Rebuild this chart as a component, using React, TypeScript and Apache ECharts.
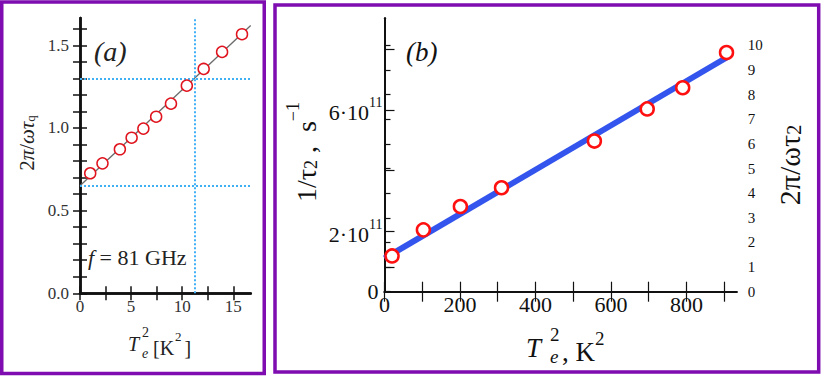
import React, { useEffect, useRef } from 'react';
import * as echarts from 'echarts';

// ---------- Panel (a) data ----------
const aX = [1.0, 2.2, 3.9, 5.05, 6.2, 7.45, 8.9, 10.45, 12.1, 13.9, 15.85];
const aY = [0.726, 0.786, 0.871, 0.941, 0.996, 1.068, 1.147, 1.256, 1.357, 1.46, 1.567];
const aFitX = [0, 16.7];
const aFitY = [0.65, 1.62];
const aRefY = [0.65, 1.3];
const aRefX = [11.2];
const aXTicks = [0, 2.5, 5, 7.5, 10, 12.5, 15];
const aXLabels = [0, 5, 10, 15];
const aYTicks = [0, 0.1, 0.2, 0.3, 0.4, 0.5, 0.6, 0.7, 0.8, 0.9, 1.0, 1.1, 1.2, 1.3, 1.4, 1.5, 1.6];
const aYLabels = [0, 0.5, 1.0, 1.5];
const aXMax = 16.7;
const aYMax = 1.665;

// ---------- Panel (b) data ----------
const bX = [20, 103, 201, 310, 556, 696, 790, 906];
const bY = [1.18e11, 2.04e11, 2.81e11, 3.43e11, 4.97e11, 6.03e11, 6.73e11, 7.89e11];
const bFitX = [0, 911];
const bFitY = [1.1e11, 7.76e11];
const bXTicks = [0, 100, 200, 300, 400, 500, 600, 700, 800, 900];
const bXLabels = [0, 200, 400, 600, 800];
const bYTicks = [0.82e11, 2e11, 4e11, 6e11, 8e11];
const bYLabels = [0, 2e11, 6e11];
const bRTicks = [0, 1, 2, 3, 4, 5, 6, 7, 8, 9, 10];
const bXMax = 933;
const bYMax = 9.02e11;
const bRMax = 11.1;

const FONT = "'Liberation Serif', 'Times New Roman', serif";
const PURPLE = '#7e0cb0';

function zip(xs: number[], ys: number[]) {
  return xs.map((x, i) => [x, ys[i]]);
}

function richLabel(size: number, color: string, fmt: (v: number) => string) {
  return {
    formatter: (v: number) => `{t|${fmt(v)}}`,
    rich: { t: { fontSize: size, fontFamily: FONT, color } },
  };
}

export default function App() {
  const ref = useRef<HTMLDivElement>(null);
  useEffect(() => {
    document.body.style.margin = '0';
    const chart = echarts.init(ref.current!, null, { renderer: 'svg' });

    const boxAxis = (extra: any) => ({
      type: 'value',
      splitLine: { show: false },
      ...extra,
    });

    const option: any = {
      animation: false,
      backgroundColor: '#fff',
      textStyle: { fontFamily: FONT },
      grid: [
        { left: 80, top: 18, width: 170.7, height: 275.3 },
        { left: 384.5, top: 18.3, width: 352.2, height: 273.4 },
      ],
      xAxis: [
        boxAxis({
          gridIndex: 0, min: 0, max: aXMax, position: 'bottom',
          axisLine: { lineStyle: { color: '#111', width: 2.5 } },
          axisTick: { inside: true, length: 7, customValues: aXTicks, lineStyle: { color: '#111', width: 1.5 } },
          axisLabel: { customValues: aXLabels, margin: 5, ...richLabel(17, '#333', (v) => String(v)) },
        }),
        boxAxis({
          gridIndex: 0, min: 0, max: aXMax, position: 'top',
          axisLine: { lineStyle: { color: '#111', width: 2.5 } },
          axisTick: { inside: true, length: 7, customValues: aXTicks, lineStyle: { color: '#111', width: 1.5 } },
          axisLabel: { show: false },
        }),
        boxAxis({
          gridIndex: 1, min: 0, max: bXMax, position: 'bottom',
          axisLine: { lineStyle: { color: '#111', width: 2 } },
          axisTick: { inside: true, length: 10, customValues: bXTicks, lineStyle: { color: '#111', width: 1.2 } },
          axisLabel: { customValues: bXLabels, margin: 2, ...richLabel(22, '#111', (v) => String(v)) },
        }),
        boxAxis({
          gridIndex: 1, min: 0, max: bXMax, position: 'top',
          axisLine: { lineStyle: { color: '#111', width: 2 } },
          axisTick: { inside: true, length: 10, customValues: bXTicks, lineStyle: { color: '#111', width: 1.2 } },
          axisLabel: { show: false },
        }),
      ],
      yAxis: [
        boxAxis({
          gridIndex: 0, min: 0, max: aYMax, position: 'left',
          axisLine: { show: true, lineStyle: { color: '#111', width: 2.5 } },
          axisTick: { show: true, inside: true, length: 7, customValues: aYTicks, lineStyle: { color: '#111', width: 1.5 } },
          axisLabel: { customValues: aYLabels, margin: 11, ...richLabel(17, '#333', (v) => v.toFixed(1)) },
        }),
        boxAxis({
          gridIndex: 0, min: 0, max: aYMax, position: 'right',
          axisLine: { show: true, lineStyle: { color: '#111', width: 2.5 } },
          axisTick: { show: true, inside: true, length: 7, customValues: aYTicks, lineStyle: { color: '#111', width: 1.5 } },
          axisLabel: { show: false },
        }),
        boxAxis({
          gridIndex: 1, min: 0, max: bYMax, position: 'left',
          axisLine: { show: true, lineStyle: { color: '#111', width: 2 } },
          axisTick: { show: true, inside: true, length: 10, customValues: bYTicks, lineStyle: { color: '#111', width: 1.2 } },
          axisLabel: {
            customValues: bYLabels, margin: 2,
            formatter: (v: number) => (v === 0 ? '{z|0}' : `{n|${Math.round(v / 1e11)}·10}{s|11}`),
            rich: {
              z: { fontSize: 22, fontFamily: FONT, color: '#111', padding: [0, 4, 0, 0] },
              n: { fontSize: 22, fontFamily: FONT, color: '#111', lineHeight: 28, verticalAlign: 'bottom' },
              s: { fontSize: 14, fontFamily: FONT, color: '#111', verticalAlign: 'top' },
            },
          },
        }),
        boxAxis({
          gridIndex: 1, min: 0, max: bRMax, position: 'right',
          axisLine: { show: true, lineStyle: { color: '#111', width: 2 } },
          axisTick: { show: true, inside: false, length: 6, customValues: bRTicks, lineStyle: { color: '#111', width: 1.2 } },
          axisLabel: { customValues: bRTicks, margin: 11, ...richLabel(15, '#111', (v) => String(v)) },
        }),
      ],
      series: [
        {
          type: 'line', xAxisIndex: 0, yAxisIndex: 0, data: zip(aFitX, aFitY),
          symbol: 'none', lineStyle: { color: '#6a6a6a', width: 1.3 }, z: 2,
          markLine: {
            silent: true, symbol: 'none', label: { show: false },
            lineStyle: { type: 'dotted', color: '#40b0f5', width: 2 },
            data: [...aRefY.map((v) => ({ yAxis: v })), ...aRefX.map((v) => ({ xAxis: v }))],
          },
        },
        {
          type: 'scatter', xAxisIndex: 0, yAxisIndex: 0, data: zip(aX, aY),
          symbol: 'circle', symbolSize: 11,
          itemStyle: { color: '#fff', borderColor: '#e0141e', borderWidth: 1.5, opacity: 1 }, z: 5,
        },
        {
          type: 'line', xAxisIndex: 2, yAxisIndex: 2, data: zip(bFitX, bFitY),
          symbol: 'none', lineStyle: { color: '#3355ee', width: 6 }, z: 2,
        },
        {
          type: 'scatter', xAxisIndex: 2, yAxisIndex: 2, data: zip(bX, bY),
          symbol: 'circle', symbolSize: 13,
          itemStyle: { color: '#fff', borderColor: '#ff1010', borderWidth: 2.5, opacity: 1 }, z: 5,
        },
      ],
      graphic: [
        { type: 'rect', shape: { x: 1.75, y: 2, width: 262.5, height: 371.5 }, style: { fill: 'none', stroke: PURPLE, lineWidth: 3.5 }, z: 100 },
        { type: 'rect', shape: { x: 275, y: 5, width: 543.7, height: 367 }, style: { fill: 'none', stroke: PURPLE, lineWidth: 3.5 }, z: 100 },
        // (a)
        { type: 'text', x: 94, y: 51, style: { text: '(a)', fontSize: 28, fontStyle: 'italic', fontFamily: FONT, fill: '#222', verticalAlign: 'middle' }, z: 50 },
        {
          type: 'text', x: 88, y: 257, z: 50,
          style: {
            text: '{i|f}{n| = 81 GHz}', verticalAlign: 'middle', fill: '#222',
            rich: {
              i: { fontSize: 22, fontStyle: 'italic', fontFamily: FONT, fill: '#222' },
              n: { fontSize: 22, fontFamily: FONT, fill: '#222' },
            },
          },
        },
        {
          type: 'text', x: 23, y: 143, rotation: Math.PI / 2, z: 50,
          style: {
            text: '{n|2}{i|π}{n|/}{i|ωτ}{s|q}', align: 'center', verticalAlign: 'middle', fill: '#222',
            rich: {
              n: { fontSize: 21, fontFamily: FONT, fill: '#222', lineHeight: 28, verticalAlign: 'bottom' },
              i: { fontSize: 21, fontFamily: FONT, fontStyle: 'italic', fill: '#222', lineHeight: 28, verticalAlign: 'bottom' },
              s: { fontSize: 13, fontFamily: FONT, fill: '#222', verticalAlign: 'bottom' },
            },
          },
        },
        // (a) x label
        { type: 'text', x: 128, y: 344, style: { text: 'T', fontSize: 20, fontStyle: 'italic', fontFamily: FONT, fill: '#222', verticalAlign: 'middle' }, z: 50 },
        { type: 'text', x: 142, y: 332, style: { text: '2', fontSize: 14, fontFamily: FONT, fill: '#222', verticalAlign: 'middle' }, z: 50 },
        { type: 'text', x: 142, y: 353, style: { text: 'e', fontSize: 14, fontStyle: 'italic', fontFamily: FONT, fill: '#222', verticalAlign: 'middle' }, z: 50 },
        {
          type: 'text', x: 153, y: 344, z: 50,
          style: {
            text: '{n|[K}{s|2}{n|]}', verticalAlign: 'middle', fill: '#222',
            rich: {
              n: { fontSize: 20, fontFamily: FONT, fill: '#222', lineHeight: 28, verticalAlign: 'bottom' },
              s: { fontSize: 13, fontFamily: FONT, fill: '#222', verticalAlign: 'top', padding: [0, 3, 0, 1] },
            },
          },
        },
        // (b)
        { type: 'text', x: 406, y: 52, style: { text: '(b)', fontSize: 27, fontStyle: 'italic', fontFamily: FONT, fill: '#111', verticalAlign: 'middle' }, z: 50 },
        {
          type: 'text', x: 302, y: 152, rotation: Math.PI / 2, z: 50,
          style: {
            text: '{n|1/τ}{sb|2}{n| ,  s}{sp|−1}', align: 'center', verticalAlign: 'middle', fill: '#111',
            rich: {
              n: { fontSize: 28, fontFamily: FONT, fill: '#111', lineHeight: 36, verticalAlign: 'bottom' },
              sb: { fontSize: 18, fontFamily: FONT, fill: '#111', verticalAlign: 'bottom' },
              sp: { fontSize: 18, fontFamily: FONT, fill: '#111', verticalAlign: 'top' },
            },
          },
        },
        {
          type: 'text', x: 785, y: 165, rotation: Math.PI / 2, z: 50,
          style: {
            text: '{n|2π/ωτ}{sb|2}', align: 'center', verticalAlign: 'middle', fill: '#111',
            rich: {
              n: { fontSize: 30, fontFamily: FONT, fill: '#111', lineHeight: 38, verticalAlign: 'bottom' },
              sb: { fontSize: 20, fontFamily: FONT, fill: '#111', verticalAlign: 'bottom' },
            },
          },
        },
        // (b) x label
        { type: 'text', x: 526, y: 348, style: { text: 'T', fontSize: 27, fontStyle: 'italic', fontFamily: FONT, fill: '#111', verticalAlign: 'middle' }, z: 50 },
        { type: 'text', x: 550, y: 334, style: { text: '2', fontSize: 19, fontFamily: FONT, fill: '#111', verticalAlign: 'middle' }, z: 50 },
        { type: 'text', x: 550, y: 356, style: { text: 'e', fontSize: 19, fontStyle: 'italic', fontFamily: FONT, fill: '#111', verticalAlign: 'middle' }, z: 50 },
        {
          type: 'text', x: 562, y: 347, z: 50,
          style: {
            text: '{n|, K}{s|2}', verticalAlign: 'middle', fill: '#111',
            rich: {
              n: { fontSize: 27, fontFamily: FONT, fill: '#111', lineHeight: 36, verticalAlign: 'bottom' },
              s: { fontSize: 19, fontFamily: FONT, fill: '#111', verticalAlign: 'top' },
            },
          },
        },
      ],
    };
    chart.setOption(option);
    return () => chart.dispose();
  }, []);
  return <div ref={ref} style={{ width: 822, height: 376 }} />;
}
